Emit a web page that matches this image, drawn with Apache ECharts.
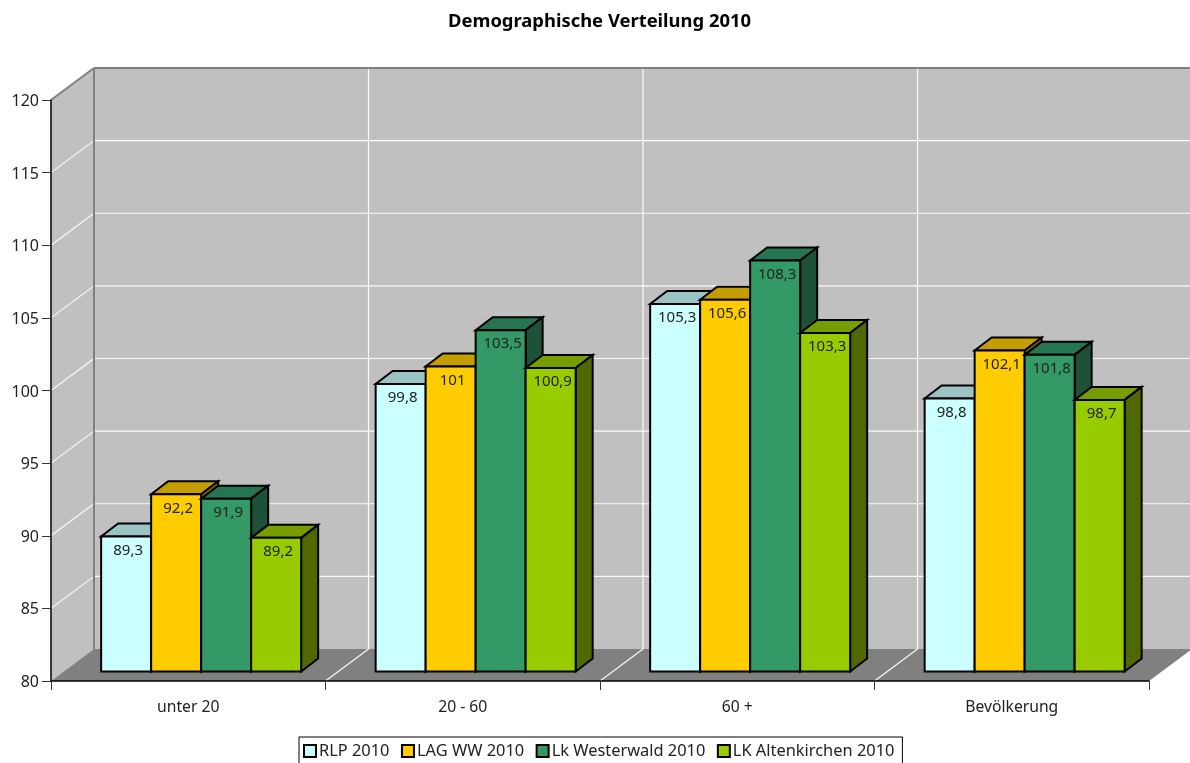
<!DOCTYPE html>
<html>
<head>
<meta charset="utf-8">
<style>html,body{margin:0;padding:0;background:#fff;overflow:hidden}#chart{width:1190px;height:763px}</style>
<script src="https://cdn.jsdelivr.net/npm/echarts@6/dist/echarts.min.js"></script>
</head>
<body>
<div id="chart"></div>
<script>
// Age distribution by region, 2010
const categories = ['unter 20', '20 - 60', '60 +', 'Bevölkerung'];
const rlp = [89.3, 99.8, 105.3, 98.8];
const lagWw = [92.2, 101, 105.6, 102.1];
const westerwald = [91.9, 103.5, 108.3, 101.8];
const altenkirchen = [89.2, 100.9, 103.3, 98.7];
const yTicks = [80, 85, 90, 95, 100, 105, 110, 115, 120];

const FONT = '"Noto Sans", sans-serif';
const TEXT = '#222';

// Faux-3D projection: pixel offsets of the back wall and of a bar's depth
const WALL = { dx: 43, dy: -32 };
const BAR = { dx: 17, dy: -13, shiftX: 12.9, shiftY: -9.5, groupRatio: 200 / 274.5 };

const palette = [
  { name: 'RLP 2010', values: rlp, front: '#CCFFFF', top: '#9CC3C3', side: '#6F8F8F' },
  { name: 'LAG WW 2010', values: lagWw, front: '#FFCC00', top: '#C49D00', side: '#806600' },
  { name: 'Lk Westerwald 2010', values: westerwald, front: '#339966', top: '#277550', side: '#1E5238' },
  { name: 'LK Altenkirchen 2010', values: altenkirchen, front: '#99CC00', top: '#769D00', side: '#4F6900' }
];

function poly(points, fill, stroke, lineWidth) {
  return {
    type: 'polygon',
    shape: { points },
    style: { fill, stroke: stroke || null, lineWidth: lineWidth || 0, lineJoin: 'miter' }
  };
}
function seg(p, q, stroke, lineWidth) {
  return {
    type: 'line',
    shape: { x1: p[0], y1: p[1], x2: q[0], y2: q[1] },
    style: { stroke, lineWidth }
  };
}

// Walls, floor and grid of the box behind the bars
function renderBox(params, api) {
  const band = api.size([1, 0])[0];
  const first = api.coord([0, yTicks[0]]);
  const top = api.coord([0, yTicks[yTicks.length - 1]]);
  const x0 = first[0] - band / 2;
  const x1 = x0 + band * categories.length;
  const yb = first[1], yt = top[1];
  const back = (x, y) => [x + WALL.dx, y + WALL.dy];
  const kids = [
    poly([[x0, yt], back(x0, yt), back(x0, yb), [x0, yb]], '#C0C0C0'),
    poly([back(x0, yt), back(x1, yt), back(x1, yb), back(x0, yb)], '#C0C0C0'),
    poly([[x0, yb], back(x0, yb), back(x1, yb), [x1, yb]], '#808080')
  ];
  yTicks.slice(1, -1).forEach(v => {
    const y = api.coord([0, v])[1];
    kids.push(seg([x0, y], back(x0, y), '#FAFAFA', 1.2));
    kids.push(seg(back(x0, y), back(x1, y), '#FAFAFA', 1.2));
  });
  for (let i = 1; i < categories.length; i++) {
    const x = x0 + band * i;
    kids.push(seg(back(x, yt), back(x, yb), '#FAFAFA', 1.2));
    kids.push(seg(back(x, yb), [x, yb], '#FAFAFA', 1.2));
  }
  kids.push(seg([x0, yt], back(x0, yt), '#808080', 2));
  kids.push(seg(back(x0, yt), back(x1, yt), '#808080', 2));
  kids.push(seg(back(x0, yt), back(x0, yb), '#808080', 2));
  return { type: 'group', children: kids };
}

// One cuboid bar: front face, top face, side face and its value
function barRenderer(seriesIndex) {
  const tone = palette[seriesIndex];
  return function (params, api) {
    const cat = api.value(0), val = api.value(1);
    const band = api.size([1, 0])[0];
    const w = band * BAR.groupRatio / palette.length;
    const c = api.coord([cat, val]);
    const base = api.coord([cat, yTicks[0]]);
    const left = c[0] + BAR.shiftX - band * BAR.groupRatio / 2 + w * seriesIndex;
    const right = left + w;
    const top = c[1] + BAR.shiftY;
    const bottom = base[1] + BAR.shiftY;
    const text = String(val).replace('.', ',');
    return {
      type: 'group',
      children: [
        poly([[left, top], [right, top], [right + BAR.dx, top + BAR.dy], [left + BAR.dx, top + BAR.dy]], tone.top, '#000', 2),
        poly([[right, top], [right + BAR.dx, top + BAR.dy], [right + BAR.dx, bottom + BAR.dy], [right, bottom]], tone.side, '#000', 2),
        poly([[left, top], [right, top], [right, bottom], [left, bottom]], tone.front, '#000', 2),
        {
          type: 'text',
          style: {
            x: (left + right) / 2 + 2, y: top + 14,
            text, fill: TEXT, font: '15px ' + FONT,
            align: 'center', verticalAlign: 'middle'
          }
        }
      ]
    };
  };
}

const barSeries = palette.map((tone, i) => ({
  type: 'custom',
  name: tone.name,
  coordinateSystem: 'cartesian2d',
  renderItem: barRenderer(i),
  itemStyle: { color: tone.front },
  encode: { x: 0, y: 1 },
  data: tone.values.map((v, j) => [j, v]),
  clip: false,
  silent: true
}));

const chart = echarts.init(document.getElementById('chart'), null, { renderer: 'canvas' });
chart.setOption({
  animation: false,
  backgroundColor: '#fff',
  textStyle: { fontFamily: FONT },
  title: {
    text: 'Demographische Verteilung 2010',
    left: 594.5, top: 8, textAlign: 'center',
    textStyle: { fontFamily: FONT, fontSize: 18.4, fontWeight: 'bold', color: '#000' }
  },
  legend: {
    data: palette.map(t => t.name),
    left: 299, top: 737,
    orient: 'horizontal',
    itemWidth: 12, itemHeight: 12, itemGap: 11.5,
    icon: 'rect',
    padding: [6, 8, 14, 4],
    borderColor: '#000', borderWidth: 1,
    backgroundColor: '#fff',
    selectedMode: false,
    itemStyle: { borderColor: '#000', borderWidth: 2 },
    textStyle: { fontFamily: FONT, fontSize: 16.4, color: TEXT, padding: [0, 0, 0, -2] }
  },
  grid: { left: 51, right: 41, top: 100, bottom: 82, containLabel: false },
  xAxis: {
    type: 'category',
    data: categories,
    z: 5,
    axisLine: { lineStyle: { color: '#000', width: 1.5 } },
    axisTick: { show: true, alignWithLabel: false, length: 9, lineStyle: { color: '#333', width: 1 } },
    axisLabel: { color: TEXT, fontSize: 15.7, fontFamily: FONT, margin: 19 },
    splitLine: { show: false }
  },
  yAxis: {
    type: 'value',
    min: 80, max: 120, interval: 5,
    z: 5,
    axisLine: { show: true, lineStyle: { color: '#000', width: 1.5 } },
    axisTick: { show: true, length: 9, lineStyle: { color: '#333', width: 1 } },
    axisLabel: {
      margin: 12,
      formatter: '{v|{value}}',
      rich: { v: { color: TEXT, fontSize: 16, fontFamily: FONT, padding: [3, 0, 0, 0] } }
    },
    splitLine: { show: false }
  },
  series: [
    {
      type: 'custom',
      name: 'box',
      coordinateSystem: 'cartesian2d',
      renderItem: renderBox,
      data: [[0, yTicks[0]]],
      clip: false,
      silent: true,
      z: 1
    }
  ].concat(barSeries)
});
</script>
</body>
</html>
